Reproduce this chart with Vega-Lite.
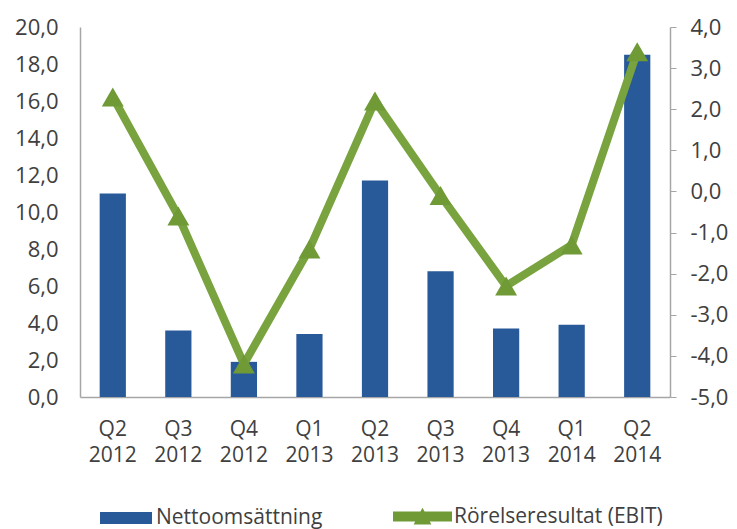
{
  "$schema": "https://vega.github.io/schema/vega-lite/v6.json",
  "width": 590,
  "height": 370,
  "autosize": "none",
  "padding": {"left": 80, "top": 27, "right": 67, "bottom": 132},
  "background": "white",
  "config": {
    "view": {"stroke": null},
    "font": "Open Sans",
    "axis": {
      "labelFont": "Open Sans",
      "labelFontSize": 22,
      "labelColor": "#404040",
      "domainColor": "#a6a6a6",
      "domainWidth": 1.5,
      "tickColor": "#a6a6a6",
      "grid": false,
      "title": null
    },
    "legend": {"padding": 0, "labelFont": "Open Sans", "labelFontSize": 21, "labelColor": "#404040", "labelLimit": 400}
  },
  "data": {
    "values": [
      {"q": "Q2 2012", "netto": 11.0, "ebit": 2.3},
      {"q": "Q3 2012", "netto": 3.6, "ebit": -0.6},
      {"q": "Q4 2012", "netto": 1.9, "ebit": -4.2},
      {"q": "Q1 2013", "netto": 3.4, "ebit": -1.4},
      {"q": "Q2 2013", "netto": 11.7, "ebit": 2.2},
      {"q": "Q3 2013", "netto": 6.8, "ebit": -0.1},
      {"q": "Q4 2013", "netto": 3.7, "ebit": -2.3},
      {"q": "Q1 2014", "netto": 3.9, "ebit": -1.3},
      {"q": "Q2 2014", "netto": 18.5, "ebit": 3.4}
    ]
  },
  "encoding": {
    "x": {
      "field": "q",
      "type": "nominal",
      "sort": null,
      "scale": {"paddingInner": 0.6, "paddingOuter": 0.3},
      "axis": {
        "labelAngle": 0,
        "ticks": false,
        "labelPadding": 21,
        "labelFontSize": 21,
        "labelExpr": "split(datum.label, ' ')",
        "labelLineHeight": 26,
        "labelBaseline": "top",
        "title": null
      }
    }
  },
  "layer": [
    {
      "mark": {"type": "bar"},
      "encoding": {
        "y": {
          "field": "netto",
          "type": "quantitative",
          "scale": {"domain": [0, 20], "nice": false},
          "axis": {
            "orient": "left",
            "values": [0, 2, 4, 6, 8, 10, 12, 14, 16, 18, 20],
            "ticks": false,
            "labelPadding": 22,
            "labelExpr": "replace(format(datum.value, '.1f'), '.', ',')"
          }
        },
        "fill": {
          "datum": "Nettoomsättning",
          "type": "nominal",
          "scale": {"range": ["#285a9a"]},
          "legend": {
            "title": null,
            "orient": "none",
            "legendX": 20,
            "legendY": 465,
            "symbolType": "M-1,-0.23H1V0.23H-1Z",
            "symbolSize": 2704,
            "symbolStrokeWidth": 0,
            "labelOffset": 4
          }
        }
      }
    },
    {
      "layer": [
        {
          "mark": {"type": "line", "stroke": "#79a33e", "strokeWidth": 8},
          "encoding": {
            "y": {
              "field": "ebit",
              "type": "quantitative",
              "scale": {"domain": [-5, 4], "nice": false},
              "axis": {
                "orient": "right",
                "values": [-5, -4, -3, -2, -1, 0, 1, 2, 3, 4],
                "ticks": true,
                "tickSize": 6,
                "labelPadding": 14,
                "labelExpr": "replace(replace(format(datum.value, '.1f'), '.', ','), '\u2212', '-')"
              }
            }
          }
        },
        {
          "mark": {"type": "point", "shape": "triangle-up", "filled": true, "size": 480, "opacity": 1},
          "encoding": {
            "y": {"field": "ebit", "type": "quantitative"},
            "fill": {
              "datum": "Rörelseresultat (EBIT)",
              "type": "nominal",
              "scale": {"range": ["#6f9a36"]},
              "legend": {
                "title": null,
                "orient": "none",
                "legendX": 313,
                "legendY": 460,
                "symbolType": "M-1,-0.17H1V0.17H-1Z M-0.3,0.27L0,-0.3L0.3,0.27Z",
                "symbolSize": 3481,
                "symbolStrokeWidth": 0,
                "labelOffset": 2
              }
            }
          }
        }
      ]
    }
  ],
  "resolve": {
    "scale": {"y": "independent", "fill": "independent"},
    "legend": {"fill": "independent"}
  }
}
